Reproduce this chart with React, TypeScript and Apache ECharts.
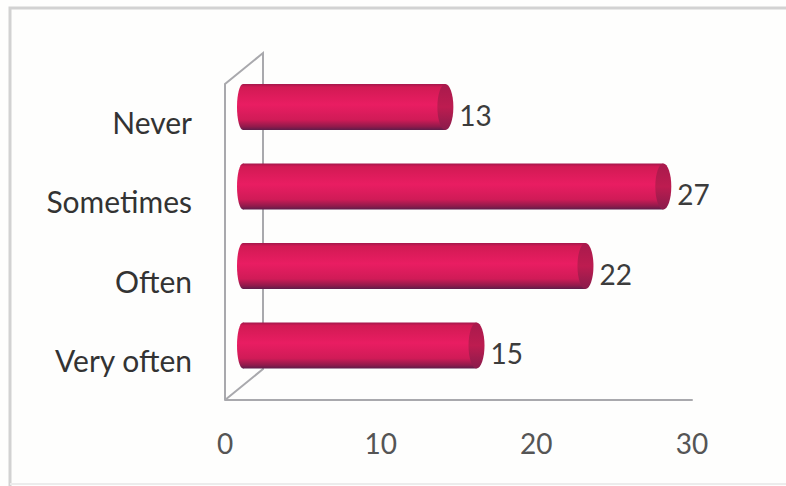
import React, { useEffect, useRef } from "react";
import * as echarts from "echarts";

const categories = ["Never", "Sometimes", "Often", "Very often"];
const responses = [13, 27, 22, 15];
const axisTicks = [0, 10, 20, 30];

const FONT = "Lato";
const DEPTH_X = 18;
const DEPTH_Y = 14.8;
const CAP_RX = 8;
const BASE_RX = 6;
const BAR_H = 46;

const bodyFill = () =>
  new echarts.graphic.LinearGradient(0, 0, 0, 1, [
    { offset: 0, color: "#a3174b" },
    { offset: 0.07, color: "#d21a54" },
    { offset: 0.45, color: "#e91d62" },
    { offset: 0.78, color: "#d01b57" },
    { offset: 0.93, color: "#8f1a4b" },
    { offset: 1, color: "#5e1c4a" },
  ]);

const renderBar = (_: any, api: any) => {
  const value = api.value(0);
  const [x0, yc] = api.coord([0, api.value(1)]);
  const [x1] = api.coord([value, api.value(1)]);
  const cy = yc - DEPTH_Y;
  const left = x0 + DEPTH_X;
  const right = x1 + DEPTH_X;
  return {
    type: "group",
    children: [
      {
        type: "ellipse",
        shape: { cx: left, cy, rx: BASE_RX, ry: BAR_H / 2 },
        style: { fill: bodyFill() },
      },
      {
        type: "rect",
        shape: { x: left, y: cy - BAR_H / 2, width: right - left, height: BAR_H },
        style: { fill: bodyFill() },
      },
      {
        type: "ellipse",
        shape: { cx: right, cy, rx: CAP_RX, ry: BAR_H / 2 },
        style: {
          fill: new echarts.graphic.LinearGradient(0, 0, 0, 1, [
            { offset: 0, color: "#a81a4c" },
            { offset: 0.5, color: "#bd1c50" },
            { offset: 1, color: "#8a1b4b" },
          ]),
        },
      },
      {
        type: "text",
        style: {
          x: right + CAP_RX + 6,
          y: cy + 8,
          text: String(value),
          fill: "#3c3c3c",
          font: `28px ${FONT}`,
          textAlign: "left",
          textVerticalAlign: "middle",
        },
      },
    ],
  };
};

export default function App() {
  const ref = useRef<HTMLDivElement>(null);
  useEffect(() => {
    const chart = echarts.init(ref.current!, null, { renderer: "svg" });
    const wall = { stroke: "#a9a9ad", lineWidth: 2, fill: "none" };
    const frame = { stroke: "#d2d2d2", lineWidth: 3, fill: "none" };
    chart.setOption({
      animation: false,
      backgroundColor: "#fefefd",
      grid: { left: 225, right: 94, top: 82, bottom: 86 },
      xAxis: {
        type: "value",
        min: axisTicks[0],
        max: axisTicks[axisTicks.length - 1],
        interval: axisTicks[1] - axisTicks[0],
        splitLine: { show: false },
        axisTick: { show: false },
        axisLine: { show: true, lineStyle: { color: "#a9a9ad", width: 2 } },
        axisLabel: { color: "#555555", fontFamily: FONT, fontSize: 28, margin: 29 },
      },
      yAxis: {
        type: "category",
        inverse: true,
        data: categories,
        axisTick: { show: false },
        axisLine: { show: false },
        axisLabel: { color: "#333333", fontFamily: FONT, fontSize: 30, margin: 33 },
      },
      graphic: [
        {
          type: "polyline",
          z: 0,
          shape: { points: [[10, 486], [10, 8], [786, 8]] },
          style: frame,
        },
        {
          type: "line",
          z: 0,
          shape: { x1: 10, y1: 484, x2: 786, y2: 484 },
          style: { stroke: "#ececec", lineWidth: 2 },
        },
        {
          type: "polyline",
          z: 1,
          shape: { points: [[225, 400], [225, 84], [263, 53], [263, 369], [225, 400]] },
          style: wall,
        },
      ],
      series: [
        {
          type: "custom",
          z: 5,
          clip: false,
          renderItem: renderBar,
          encode: { x: 0, y: 1 },
          data: categories.map((c, i) => [responses[i], c]),
        },
      ],
    });
    return () => chart.dispose();
  }, []);
  return (
    <div
      ref={ref}
      style={{ position: "fixed", left: 0, top: 0, width: 786, height: 486 }}
    />
  );
}
